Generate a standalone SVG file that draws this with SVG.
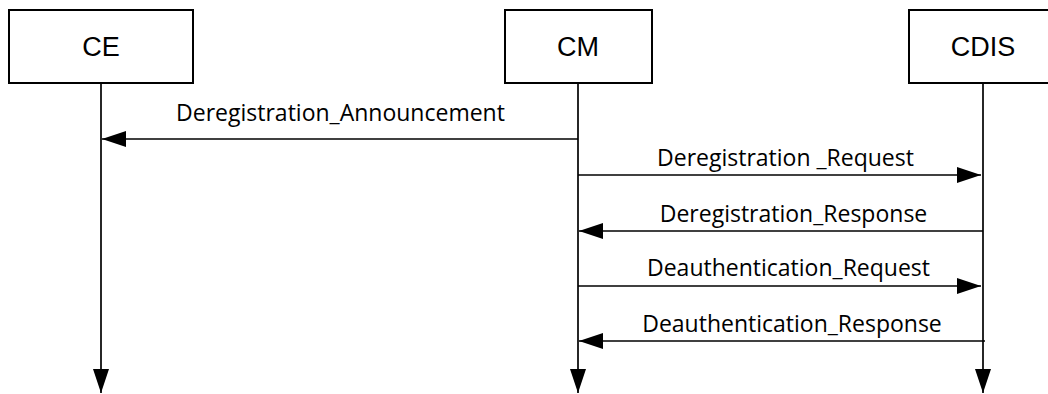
<svg xmlns="http://www.w3.org/2000/svg" width="1048" height="394" viewBox="0 0 1048 394">
<style>
.box{fill:#fff;stroke:#000;stroke-width:2}
.nt{font-family:"Liberation Sans",Arial,sans-serif;font-size:27px;text-anchor:middle;fill:#000}
.ln{stroke:#000;stroke-width:1.7;fill:none}
.ml{font-family:"Open Sans","Noto Sans",sans-serif;font-size:23px;text-anchor:middle;fill:#000}
</style>
<defs>
<marker id="ah" markerWidth="24" markerHeight="16" refX="24" refY="8" orient="auto" markerUnits="userSpaceOnUse">
<path d="M0,0 L24,8 L0,16 Z" fill="#000"/>
</marker>
</defs>
<rect width="1048" height="394" fill="#fff"/>
<g id="CE"><rect class="box" x="9" y="10" width="184" height="73"/><text class="nt" x="101" y="56">CE</text></g>
<g id="CM"><rect class="box" x="505" y="10" width="147" height="73"/><text class="nt" x="578" y="56">CM</text></g>
<g id="CDIS"><rect class="box" x="909" y="10" width="150" height="73"/><text class="nt" x="983" y="56">CDIS</text></g>
<g id="connectors">
<line class="ln" x1="101" y1="83" x2="101" y2="393" marker-end="url(#ah)"/>
<line class="ln" x1="578" y1="83" x2="578" y2="393" marker-end="url(#ah)"/>
<line class="ln" x1="983" y1="83" x2="983" y2="393" marker-end="url(#ah)"/>
<line class="ln" x1="578" y1="139" x2="102" y2="139" marker-end="url(#ah)"/>
<line class="ln" x1="578" y1="175" x2="981" y2="175" marker-end="url(#ah)"/>
<line class="ln" x1="983" y1="231" x2="579" y2="231" marker-end="url(#ah)"/>
<line class="ln" x1="578" y1="286" x2="981" y2="286" marker-end="url(#ah)"/>
<line class="ln" x1="985" y1="341" x2="579" y2="341" marker-end="url(#ah)"/>
<text class="ml" x="340.5" y="121">Deregistration_Announcement</text>
<text class="ml" x="785.5" y="166">Deregistration _Request</text>
<text class="ml" x="793.5" y="222">Deregistration_Response</text>
<text class="ml" x="788.5" y="276">Deauthentication_Request</text>
<text class="ml" x="792" y="332">Deauthentication_Response</text>
</g>
</svg>
